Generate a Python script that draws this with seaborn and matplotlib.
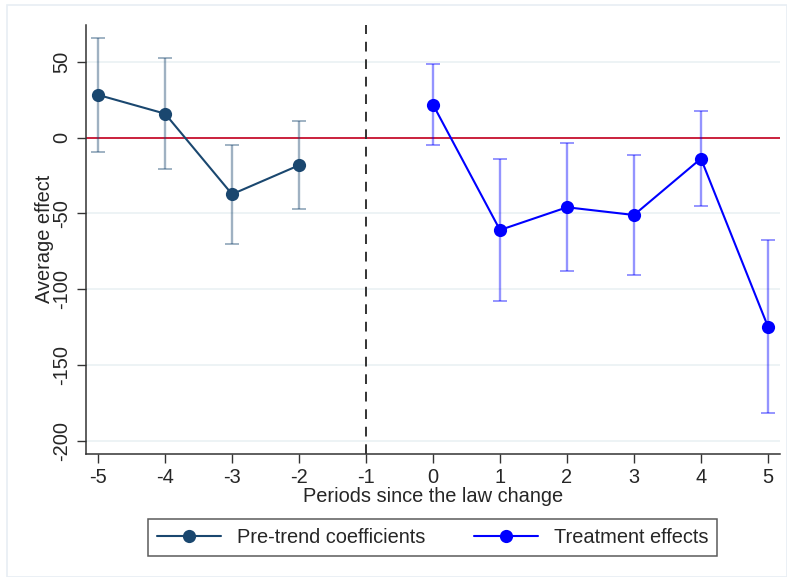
import seaborn as sns
import matplotlib.pyplot as plt
import pandas as pd
from matplotlib.patches import Rectangle

# Event-study estimates
pre_periods = [-5, -4, -3, -2]
pre_coef = [28.2, 15.8, -37.3, -18.2]
pre_hi = [65.5, 52.6, -4.8, 11.0]
pre_lo = [-9.2, -20.6, -69.9, -47.2]

post_periods = [0, 1, 2, 3, 4, 5]
post_coef = [21.8, -60.9, -45.9, -51.0, -13.8, -124.6]
post_hi = [48.8, -13.8, -3.3, -11.4, 17.4, -67.3]
post_lo = [-4.8, -107.7, -88.1, -90.3, -44.8, -181.3]

x_ticks = [-5, -4, -3, -2, -1, 0, 1, 2, 3, 4, 5]
y_ticks = [50, 0, -50, -100, -150, -200]

pre_col = '#1a476f'
post_col = '#0000ff'
fs = 14.4

sns.set_style('white')
plt.rcParams['font.family'] = ['Liberation Sans', 'DejaVu Sans']

fig = plt.figure(figsize=(7.87, 5.77), dpi=100)
ax = fig.add_axes([0.1093, 0.2137, 0.8818, 0.743])

# light frame around the graph region (Stata style)
fig.patches.append(Rectangle((7 / 787, 0), 1 - 7 / 787, 1 - 5 / 577, transform=fig.transFigure,
                             fill=False, edgecolor='#e8eef3', linewidth=1.2))

for y in y_ticks:
    ax.axhline(y, color='#eaf1f4', lw=1.2, zorder=0)

ax.axhline(0, color='#c8102e', lw=1.3, zorder=1)
ax.axvline(-1, color='#333333', lw=1.4, ls=(0, (5, 4)), zorder=1)

pre = pd.DataFrame({'period': pre_periods, 'coef': pre_coef, 'lo': pre_lo, 'hi': pre_hi})
post = pd.DataFrame({'period': post_periods, 'coef': post_coef, 'lo': post_lo, 'hi': post_hi})

ax.errorbar(pre['period'], pre['coef'],
            yerr=[pre['coef'] - pre['lo'], pre['hi'] - pre['coef']],
            fmt='none', ecolor=pre_col, alpha=0.42, elinewidth=1.7, capsize=5, capthick=1.4, zorder=2)
ax.errorbar(post['period'], post['coef'],
            yerr=[post['coef'] - post['lo'], post['hi'] - post['coef']],
            fmt='none', ecolor=post_col, alpha=0.42, elinewidth=1.7, capsize=5, capthick=1.4, zorder=2)

sns.lineplot(data=pre, x='period', y='coef', ax=ax, color=pre_col, lw=1.5, marker='o',
             markersize=9.5, markeredgewidth=0, label='Pre-trend coefficients', zorder=3)
sns.lineplot(data=post, x='period', y='coef', ax=ax, color=post_col, lw=1.5, marker='o',
             markersize=9.5, markeredgewidth=0, label='Treatment effects', zorder=3)

ax.set_xlim(-5.18, 5.18)
ax.set_ylim(-208.4, 74.3)
ax.set_xticks(x_ticks)
ax.set_xticklabels([str(v) for v in x_ticks], fontsize=fs)
ax.set_yticks(y_ticks)
ax.set_yticklabels([str(v) for v in y_ticks], fontsize=fs, rotation=90, va='center')
ax.tick_params(axis='both', direction='out', length=6.5, width=1, color='#333333',
               bottom=True, left=True, pad=4)

ax.set_xlabel('Periods since the law change', fontsize=fs, labelpad=0)
ax.set_ylabel('Average effect', fontsize=fs, labelpad=-1)

for s in ['top', 'right']:
    ax.spines[s].set_visible(False)
for s in ['left', 'bottom']:
    ax.spines[s].set_color('#333333')
    ax.spines[s].set_linewidth(1.1)

handles, labels = ax.get_legend_handles_labels()
ax.get_legend().remove()
leg = fig.legend(handles, labels, loc='center', bbox_to_anchor=(0.55, 0.0685), ncol=2,
                 fontsize=fs, frameon=True, fancybox=False, edgecolor='#333333',
                 handlelength=3.2, columnspacing=2.4, borderpad=0.45, handletextpad=0.8)
leg.get_frame().set_linewidth(1.1)

fig.savefig('out.png', dpi=100)
